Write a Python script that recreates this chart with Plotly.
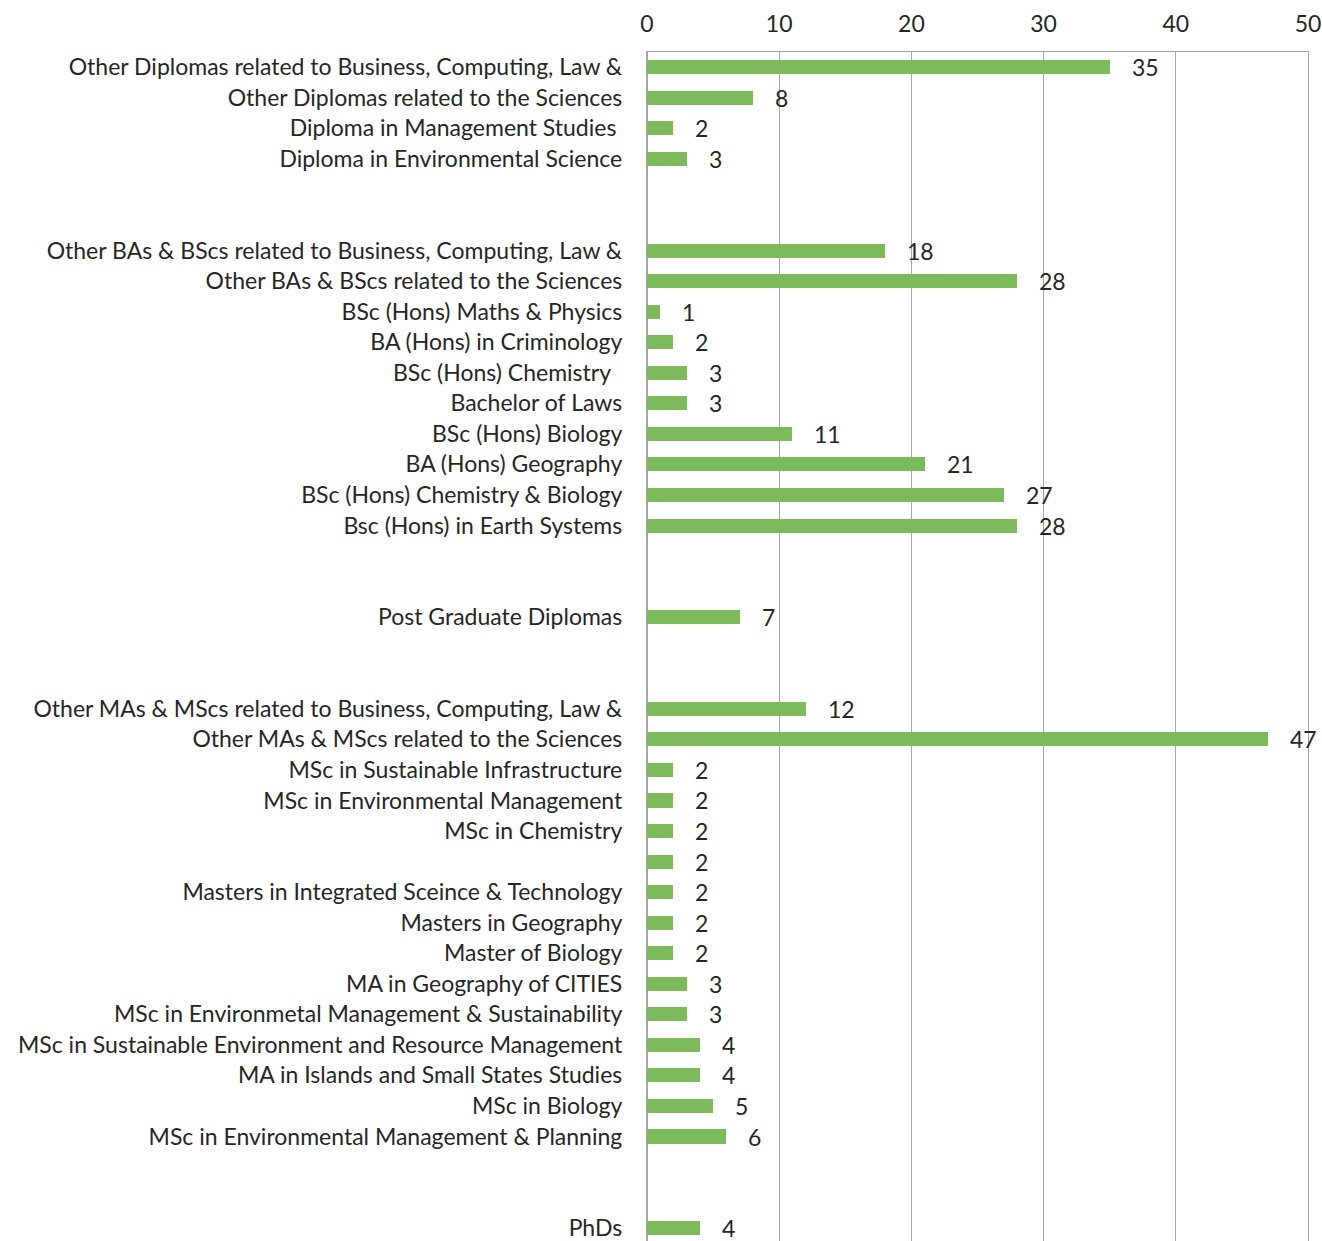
import plotly.graph_objects as go

labels = [
    "Other Diplomas related to Business, Computing, Law &",
    "Other Diplomas related to the Sciences",
    "Diploma in Management Studies\u00a0",
    "Diploma in Environmental Science",
    "",
    "",
    "Other BAs & BScs related to Business, Computing, Law &",
    "Other BAs & BScs related to the Sciences",
    "BSc (Hons) Maths & Physics",
    "BA (Hons) in Criminology",
    "BSc (Hons) Chemistry\u00a0\u00a0",
    "Bachelor of Laws",
    "BSc (Hons) Biology",
    "BA (Hons) Geography",
    "BSc (Hons) Chemistry & Biology",
    "Bsc (Hons) in Earth Systems",
    "",
    "",
    "Post Graduate Diplomas",
    "",
    "",
    "Other MAs & MScs related to Business, Computing, Law &",
    "Other MAs & MScs related to the Sciences",
    "MSc in Sustainable Infrastructure",
    "MSc in Environmental Management",
    "MSc in Chemistry",
    "",
    "Masters in Integrated Sceince & Technology",
    "Masters in Geography",
    "Master of Biology",
    "MA in Geography of CITIES",
    "MSc in Environmetal Management & Sustainability",
    "MSc in Sustainable Environment and Resource Management",
    "MA in Islands and Small States Studies",
    "MSc in Biology",
    "MSc in Environmental Management & Planning",
    "",
    "",
    "PhDs",
]

values = [
    35, 8, 2, 3, None, None,
    18, 28, 1, 2, 3, 3, 11, 21, 27, 28,
    None, None, 7, None, None,
    12, 47, 2, 2, 2, 2, 2, 2, 2, 3, 3, 4, 4, 5, 6,
    None, None, 4,
]

x_ticks = [0, 10, 20, 30, 40, 50]

rows = list(range(len(labels)))
bar_rows = [r for r, v in zip(rows, values) if v is not None]
bar_vals = [v for v in values if v is not None]

FONT = "Lato, 'Open Sans', sans-serif"
TEXT = "#262626"
GREEN = "#7dba5b"
GRID = "#a6a6a6"
FS = 23

fig = go.Figure()
fig.add_trace(go.Bar(
    x=bar_vals, y=bar_rows, orientation="h",
    marker=dict(color=GREEN, line=dict(width=0)),
    width=0.46, hoverinfo="x+y",
))

for r, v in zip(bar_rows, bar_vals):
    fig.add_annotation(x=v, y=r, text=str(v), showarrow=False,
                       xanchor="left", xshift=20, yshift=0,
                       font=dict(family=FONT, size=FS, color=TEXT))

fig.update_layout(
    width=1322, height=1241,
    margin=dict(l=647, r=14, t=52, b=0),
    paper_bgcolor="white", plot_bgcolor="white",
    showlegend=False,
    bargap=0,
    xaxis=dict(
        side="top", range=[0, 50], tickvals=x_ticks,
        showgrid=True, gridcolor=GRID, gridwidth=1.3,
        showline=True, linecolor=GRID, linewidth=1.3, mirror=False,
        zeroline=True, zerolinecolor=GRID, zerolinewidth=1.3,
        ticks="outside", ticklen=10, tickcolor="rgba(0,0,0,0)",
        tickfont=dict(family=FONT, size=FS, color=TEXT),
        ticklabeloverflow="allow",
        fixedrange=True,
    ),
    yaxis=dict(
        range=[38.42, -0.5], tickvals=rows, ticktext=labels,
        showgrid=False, zeroline=False,
        showline=True, linecolor=GRID, linewidth=1.3, mirror=True,
        ticks="outside", ticklen=19, tickcolor="rgba(0,0,0,0)",
        tickfont=dict(family=FONT, size=FS, color=TEXT),
        ticklabeloverflow="allow",
        fixedrange=True,
    ),
)

fig.write_html(
    "out.html",
    config={"displayModeBar": False},
    post_script="document.body.style.margin='0';document.body.style.overflow='hidden';",
)
